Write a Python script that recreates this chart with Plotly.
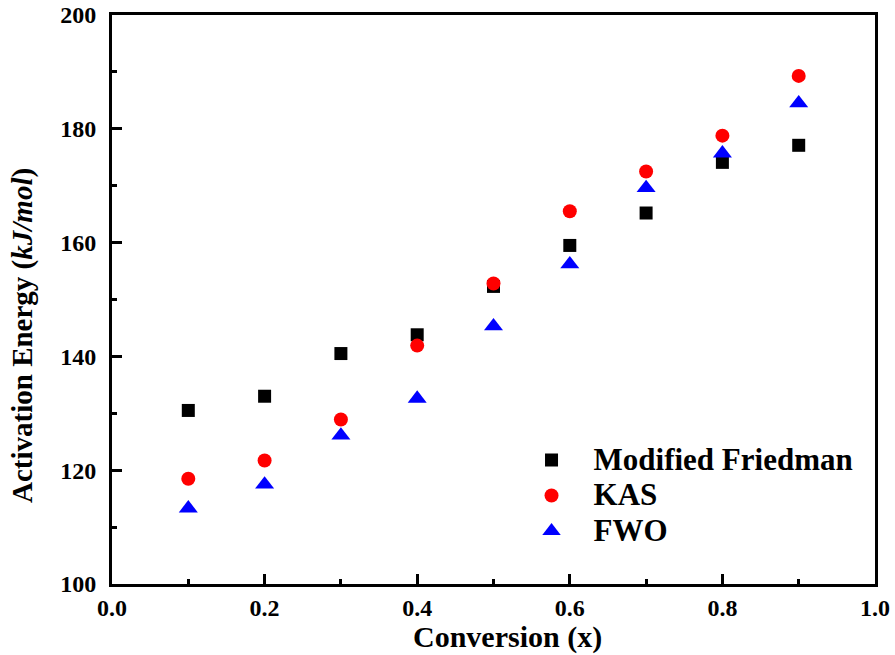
import plotly.graph_objects as go

conversion = [0.1, 0.2, 0.3, 0.4, 0.5, 0.6, 0.7, 0.8, 0.9]
friedman = [130.5, 133.0, 140.5, 143.8, 152.3, 159.5, 165.2, 174.1, 177.1]
kas = [118.5, 121.7, 128.9, 141.9, 152.8, 165.5, 172.5, 178.8, 189.3]
fwo = [113.3, 117.5, 126.1, 132.6, 145.3, 156.2, 169.6, 175.7, 184.5]
series_names = ["Modified Friedman", "KAS", "FWO"]

FONT = "Liberation Serif"
LEG = '<span style="font-size:31px"><b>{}</b></span>'

fig = go.Figure()
fig.add_trace(go.Scatter(x=conversion, y=friedman, mode="markers", name=LEG.format(series_names[0]),
                         marker=dict(symbol="square", size=13, color="black", line=dict(width=0))))
fig.add_trace(go.Scatter(x=conversion, y=kas, mode="markers", name=LEG.format(series_names[1]),
                         marker=dict(symbol="circle", size=14, color="#ff0000", line=dict(width=0))))
fig.add_trace(go.Scatter(x=conversion, y=fwo, mode="markers", name=LEG.format(series_names[2]),
                         marker=dict(symbol="triangle-up", size=16.5, color="#0000ff", line=dict(width=0))))

axis_common = dict(
    showline=True, linewidth=3, linecolor="black", mirror=True,
    ticks="inside", ticklen=10, tickwidth=3, tickcolor="black",
    showgrid=False, zeroline=False, automargin=False,
    tickfont=dict(family=FONT, size=24, color="black", weight="bold"),
)

fig.update_xaxes(range=[0, 1.0], dtick=0.2, tickformat=".1f", ticklabelstandoff=0,
                 minor=dict(ticks="inside", ticklen=5, tickwidth=3, tickcolor="black", dtick=0.1),
                 **axis_common)
fig.update_yaxes(range=[100, 200], dtick=20, ticklabelstandoff=8,
                 minor=dict(ticks="inside", ticklen=5, tickwidth=3, tickcolor="black", dtick=10),
                 **axis_common)

fig.add_annotation(text="<b>Conversion (x)</b>", xref="paper", yref="paper", x=0.518, y=-0.094,
                   xanchor="center", yanchor="middle", showarrow=False, borderpad=0,
                   font=dict(family=FONT, size=30, color="black"))
fig.add_annotation(text="<b>Activation Energy (<i>kJ/mol</i>)</b>", xref="paper", yref="paper",
                   x=-0.118, y=0.4376, xanchor="center", yanchor="middle", textangle=-90,
                   showarrow=False, font=dict(family=FONT, size=29, color="black"))

fig.update_layout(
    template="none",
    width=895, height=655,
    margin=dict(l=112, r=20, t=15, b=71, autoexpand=False),
    paper_bgcolor="white", plot_bgcolor="white",
    showlegend=True,
    legend=dict(x=0.521, y=0.258, xanchor="left", yanchor="top",
                bgcolor="rgba(0,0,0,0)", itemwidth=74, tracegroupgap=0,
                font=dict(family=FONT, size=25, color="black")),
)

fig.write_html("out.html")
